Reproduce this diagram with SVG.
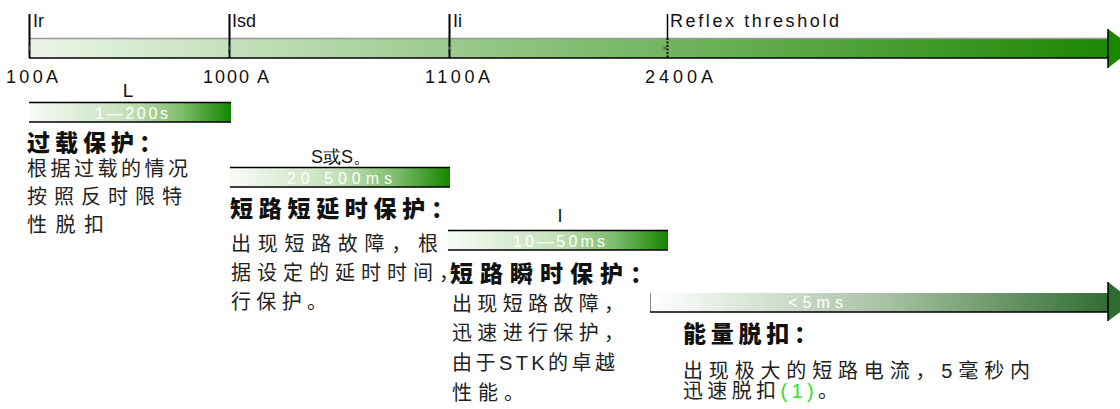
<svg xmlns="http://www.w3.org/2000/svg" width="1120" height="409" viewBox="0 0 1120 409">
<defs>
<linearGradient id="topGrad" gradientUnits="userSpaceOnUse" x1="29" y1="0" x2="1120" y2="0">
<stop offset="0" stop-color="#ebf5e7"/><stop offset="1" stop-color="#1c8600"/>
</linearGradient>
<linearGradient id="barGrad" x1="0" y1="0" x2="1" y2="0">
<stop offset="0" stop-color="#f8fbf7"/><stop offset="0.5" stop-color="#c2e0b8"/><stop offset="0.75" stop-color="#80bd6e"/><stop offset="1" stop-color="#168600"/>
</linearGradient>
<linearGradient id="botGrad" gradientUnits="userSpaceOnUse" x1="650" y1="0" x2="1120" y2="0">
<stop offset="0" stop-color="#ffffff"/><stop offset="0.5" stop-color="#a8c2a4"/><stop offset="1" stop-color="#2c6a2c"/>
</linearGradient>
</defs>
<style>
.lat{font-family:"Liberation Sans",Arial,sans-serif;fill:#111;}
.cjk{font-family:"Liberation Sans","Noto Sans CJK SC",sans-serif;fill:#222;font-size:20px;}
.hd{font-family:"Noto Sans CJK SC",sans-serif;font-weight:900;fill:#111;font-size:23px;}
.bt{font-family:"Liberation Sans",Arial,sans-serif;fill:#fff;font-size:16px;}
.tick{stroke:#000;stroke-width:2;}
.dot{fill:#666;}
.bar{fill:url(#barGrad);}
.edge{stroke:#000;stroke-width:1.5;}
</style>

<g id="axis">
<rect x="29" y="38" width="1079" height="20" fill="url(#topGrad)"/>
<line x1="29" y1="38.5" x2="1108" y2="38.5" stroke="#999" stroke-width="1.5"/>
<line x1="29" y1="58" x2="1108" y2="58" class="edge"/>
<polygon points="1108,29 1134,48 1108,68" fill="#1e8700"/>
<line x1="1108" y1="29" x2="1108" y2="68" stroke="#000" stroke-width="1.5"/>
</g>

<g id="ticks">
<line x1="29.5" y1="14" x2="29.5" y2="58" class="tick"/>
<line x1="229.5" y1="14" x2="229.5" y2="58" class="tick"/>
<line x1="449.5" y1="14" x2="449.5" y2="58" class="tick"/>
<line x1="667.5" y1="14" x2="667.5" y2="38" stroke="#000" stroke-width="1.5"/>
<line x1="667.5" y1="38" x2="667.5" y2="58" stroke="#000" stroke-width="2" stroke-dasharray="2,1.5"/>
<circle cx="29.5" cy="48" r="1.5" class="dot"/>
<circle cx="229.5" cy="48" r="1.5" class="dot"/>
<circle cx="449.5" cy="48" r="1.5" class="dot"/>
<circle cx="665" cy="48" r="1.8" class="dot"/>
<text x="33" y="27" class="lat" font-size="18">Ir</text>
<text x="232" y="27" class="lat" font-size="18">Isd</text>
<text x="453" y="27" class="lat" font-size="18">Ii</text>
<text x="670" y="27" class="lat" font-size="18" textLength="169" lengthAdjust="spacing">Reflex threshold</text>
<text x="6" y="83" class="lat" font-size="18" textLength="52" lengthAdjust="spacing">100A</text>
<text x="203" y="83" class="lat" font-size="18" textLength="66" lengthAdjust="spacing">1000 A</text>
<text x="425" y="83" class="lat" font-size="18" textLength="65" lengthAdjust="spacing">1100A</text>
<text x="645" y="83" class="lat" font-size="18" textLength="68" lengthAdjust="spacing">2400A</text>
</g>

<g id="overload">
<text x="128" y="97" class="lat" font-size="19" text-anchor="middle">L</text>
<rect x="29" y="102" width="202" height="20" class="bar"/>
<line x1="29" y1="102.5" x2="231" y2="102.5" class="edge"/>
<line x1="29" y1="122" x2="231" y2="122" class="edge"/>
<text x="95" y="119" class="bt" textLength="73" lengthAdjust="spacing">1—200s</text>
<text x="27" y="151" class="hd" textLength="135" lengthAdjust="spacing">过载保护：</text>
<text x="27" y="176" class="cjk" textLength="161" lengthAdjust="spacing">根据过载的情况</text>
<text x="27" y="204" class="cjk" textLength="155" lengthAdjust="spacing">按照反时限特</text>
<text x="27" y="232" class="cjk" textLength="77" lengthAdjust="spacing">性脱扣</text>
</g>

<g id="short-delay">
<text x="341" y="163" class="lat" font-size="18" text-anchor="middle">S或S。</text>
<rect x="230" y="167" width="220" height="20" class="bar"/>
<line x1="230" y1="167.5" x2="450" y2="167.5" class="edge"/>
<line x1="230" y1="187" x2="450" y2="187" class="edge"/>
<text x="287" y="184" class="bt" textLength="105" lengthAdjust="spacing">20  500ms</text>
<text x="230" y="217" class="hd" textLength="224" lengthAdjust="spacing">短路短延时保护：</text>
<text x="231" y="251" class="cjk" textLength="207" lengthAdjust="spacing">出现短路故障，根</text>
<text x="231" y="280" class="cjk" textLength="228" lengthAdjust="spacing">据设定的延时时间，</text>
<text x="231" y="309" class="cjk" textLength="96" lengthAdjust="spacing">行保护。</text>
</g>

<g id="instant">
<text x="560" y="222" class="lat" font-size="18" text-anchor="middle">I</text>
<rect x="448" y="230" width="220" height="20" class="bar"/>
<line x1="448" y1="230.5" x2="668" y2="230.5" class="edge"/>
<line x1="448" y1="250" x2="668" y2="250" class="edge"/>
<text x="513" y="247" class="bt" textLength="92" lengthAdjust="spacing">10—50ms</text>
<text x="450" y="282" class="hd" textLength="203" lengthAdjust="spacing">短路瞬时保护：</text>
<text x="452" y="311" class="cjk" textLength="172" lengthAdjust="spacing">出现短路故障，</text>
<text x="452" y="340" class="cjk" textLength="172" lengthAdjust="spacing">迅速进行保护，</text>
<text x="452" y="370" class="cjk" textLength="163" lengthAdjust="spacing">由于STK的卓越</text>
<text x="452" y="400" class="cjk" textLength="72" lengthAdjust="spacing">性能。</text>
</g>

<g id="energy">
<rect x="650" y="293" width="458" height="19" fill="url(#botGrad)"/>
<line x1="650.5" y1="293" x2="650.5" y2="312" stroke="#888" stroke-width="1"/>
<line x1="650" y1="312" x2="1108" y2="312" class="edge"/>
<polygon points="1108,282 1134,302 1108,321" fill="#2e6b30"/>
<line x1="1108" y1="282" x2="1108" y2="321" stroke="#000" stroke-width="1.5"/>
<text x="788" y="308" class="bt" textLength="55" lengthAdjust="spacing">&lt;5ms</text>
<text x="683" y="342" class="hd" textLength="134" lengthAdjust="spacing">能量脱扣：</text>
<text x="683" y="378" class="cjk" textLength="347" lengthAdjust="spacing">出现极大的短路电流，5毫秒内</text>
<text x="683" y="398" class="cjk" textLength="155" lengthAdjust="spacing">迅速脱扣<tspan fill="#33dd33">(1)</tspan>。</text>
</g>
</svg>
